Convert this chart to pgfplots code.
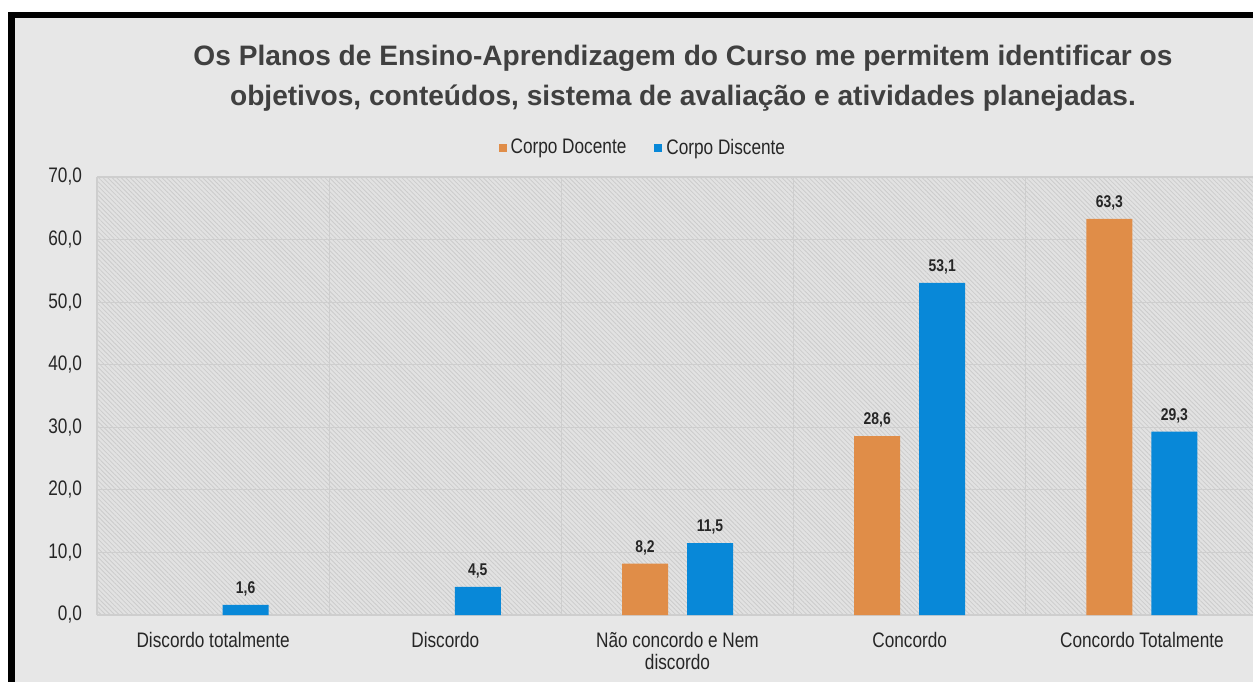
\documentclass[border=0pt]{standalone}
\usepackage{pgfplots}
\pgfplotsset{compat=1.18}
\usetikzlibrary{patterns.meta}
\usepackage{fontspec}
\setmainfont{Liberation Sans}
\newfontfamily\narrowfont[FakeStretch=0.82]{Liberation Sans}
\definecolor{docente}{RGB}{224,141,72}
\definecolor{discente}{RGB}{8,136,216}
\definecolor{bg}{RGB}{231,231,231}
\definecolor{plotbg}{RGB}{226,226,226}
\definecolor{hatch}{RGB}{204,204,204}
\definecolor{gridc}{RGB}{206,206,206}
\definecolor{txt}{RGB}{38,38,38}
\definecolor{titlec}{RGB}{64,64,64}
\begin{document}
\begin{tikzpicture}
\useasboundingbox (0,0) rectangle (626.5pt,340.5pt);
\clip (0,0) rectangle (626.5pt,340.5pt);
\fill[white] (0,0) rectangle (626.5pt,340.5pt);
\fill[black] (4pt,-10pt) rectangle (640pt,334.5pt);
\fill[bg] (7.5pt,-10pt) rectangle (640pt,331.5pt);
\node[font=\bfseries\fontsize{14.05}{20}\selectfont, text=titlec, align=center] at (341.5pt,301.5pt)
  {Os Planos de Ensino-Aprendizagem do Curso me permitem identificar os\\objetivos, conteúdos, sistema de avaliação e atividades planejadas.};
\begin{axis}[
  at={(48.5pt,33pt)}, anchor=south west,
  scale only axis, width=580.5pt, height=219pt,
  xmin=-0.5, xmax=4.5, ymin=0, ymax=70,
  ytick={0,10,...,70},
  xtick={0,1,2,3,4},
  xticklabels={Discordo totalmente, Discordo, {Não concordo e Nem\\discordo}, Concordo, Concordo Totalmente},
  minor xtick={-0.5,0.5,1.5,2.5,3.5},
  xminorgrids, ymajorgrids,
  grid style={draw=gridc, line width=0.6pt},
  minor grid style={draw=gridc, line width=0.6pt},
  axis line style={draw=none},
  major tick length=0pt, minor tick length=0pt,
  axis background/.style={fill=plotbg, postaction={pattern={Lines[angle=-45,distance=1.6pt,line width=0.4pt]}, pattern color=hatch}},
  /pgf/number format/assume math mode=true,
  yticklabel={\pgfmathprintnumber[fixed,fixed zerofill,precision=1,use comma]{\tick}},
  yticklabel style={font=\narrowfont\fontsize{10.5}{11}\selectfont, text=txt, xshift=-4pt},
  xticklabel style={font=\narrowfont\fontsize{10.5}{11}\selectfont, text=txt, align=center, yshift=-5pt},
  ybar,
  bar width=23pt,
  nodes near coords={\pgfmathprintnumber[fixed,fixed zerofill,precision=1,use comma]{\pgfplotspointmeta}},
  every node near coord/.append style={font=\narrowfont\bfseries\fontsize{8.5}{10}\selectfont, text=txt, anchor=south, inner sep=1pt, yshift=3.2pt},
  legend style={at={(axis description cs:0.471,1.066)}, anchor=center, legend columns=2, draw=none, fill=none,
    font=\narrowfont\fontsize{10.5}{12}\selectfont, text=txt,
    /tikz/every even column/.append style={column sep=12pt}},
  legend image code/.code={\fill[#1] (0pt,-2pt) rectangle (4pt,2pt);},
  clip=false,
]
\addplot[draw=none, fill=docente, bar shift=-16.25pt] coordinates {(2,8.2) (3,28.6) (4,63.3)};
\addlegendentry{Corpo Docente}
\addplot[draw=none, fill=discente, bar shift=16.25pt] coordinates {(0,1.6) (1,4.5) (2,11.5) (3,53.1) (4,29.3)};
\addlegendentry{Corpo Discente}
\end{axis}
\end{tikzpicture}
\end{document}
